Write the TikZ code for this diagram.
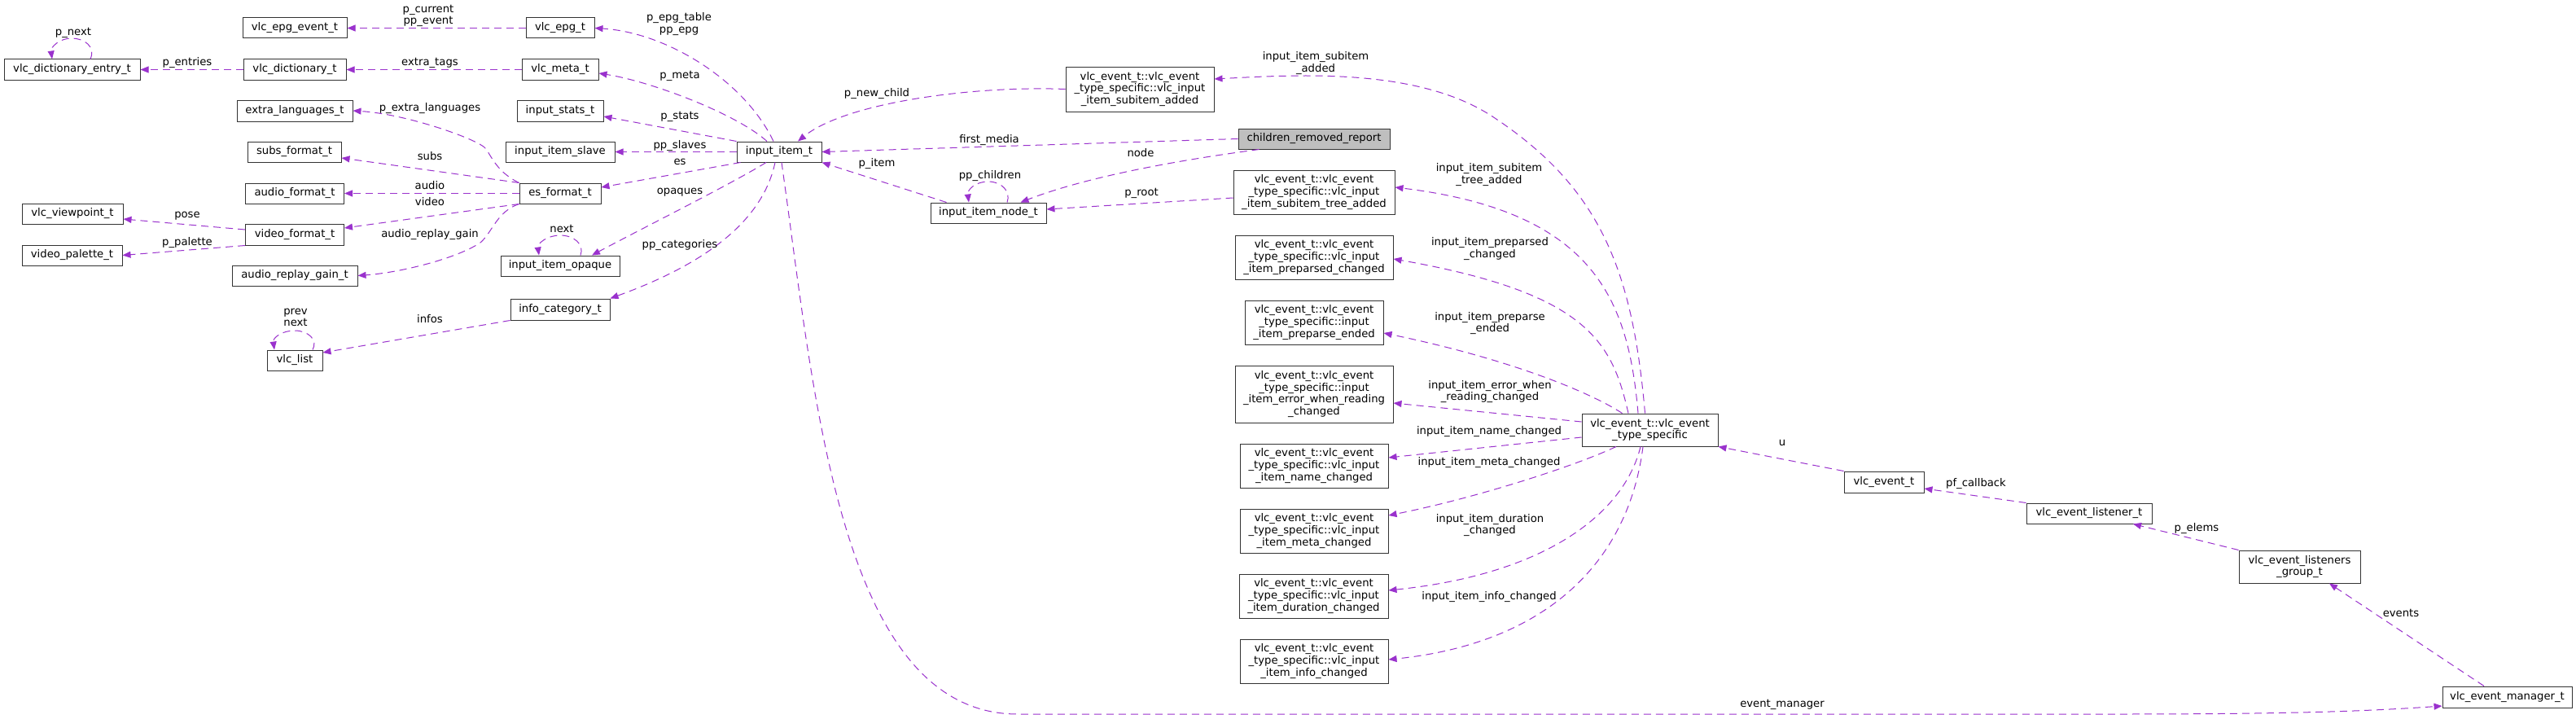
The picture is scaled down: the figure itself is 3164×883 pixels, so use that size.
\documentclass[tikz,border=0pt]{standalone}
\usepackage{fontspec}
\setmainfont{DejaVu Sans}
\usetikzlibrary{arrows.meta}
\definecolor{edgec}{HTML}{9A32CD}
\definecolor{grayfill}{HTML}{BFBFBF}
\newcommand\dgfont{\fontsize{13.2}{14.7}\selectfont}
\tikzset{
  box/.style={draw=black!80, line width=1pt, fill=white, inner sep=0pt, align=center, font=\dgfont},
  edge/.style={draw=edgec, line width=1pt, dash pattern=on 9pt off 6pt, -{Triangle[length=10pt,width=8pt]}, color=edgec},
  lbl/.style={inner sep=0pt, align=center, font=\dgfont, text=black},
}
\begin{document}
\begin{tikzpicture}[x=1pt,y=1pt]
\fill[white] (0,0) rectangle (3164,-883);
\useasboundingbox (0,0) rectangle (3164,-883);
% nodes
\node[box,minimum width=167pt,minimum height=25pt] (dictentry) at (88.5,-85.5) {vlc\_dictionary\_entry\_t};
\node[box,minimum width=124pt,minimum height=25pt] (viewpoint) at (89,-262.5) {vlc\_viewpoint\_t};
\node[box,minimum width=123pt,minimum height=25pt] (palette) at (88.5,-313.5) {video\_palette\_t};
\node[box,minimum width=128pt,minimum height=25pt] (epgevent) at (362,-34.5) {vlc\_epg\_event\_t};
\node[box,minimum width=126pt,minimum height=25pt] (dict) at (362,-85.5) {vlc\_dictionary\_t};
\node[box,minimum width=142pt,minimum height=26pt] (extralang) at (362,-136) {extra\_languages\_t};
\node[box,minimum width=115pt,minimum height=25pt] (subs) at (361.5,-186.5) {subs\_format\_t};
\node[box,minimum width=121pt,minimum height=25pt] (audiofmt) at (362,-237.5) {audio\_format\_t};
\node[box,minimum width=121pt,minimum height=26pt] (videofmt) at (362,-288) {video\_format\_t};
\node[box,minimum width=154pt,minimum height=25pt] (replaygain) at (362,-338.5) {audio\_replay\_gain\_t};
\node[box,minimum width=68pt,minimum height=25pt] (vlclist) at (362,-442.5) {vlc\_list};
\node[box,minimum width=84pt,minimum height=25pt] (epg) at (688,-34.5) {vlc\_epg\_t};
\node[box,minimum width=94pt,minimum height=25pt] (meta) at (688,-85.5) {vlc\_meta\_t};
\node[box,minimum width=106pt,minimum height=26pt] (stats) at (688,-136) {input\_stats\_t};
\node[box,minimum width=134pt,minimum height=25pt] (slave) at (688,-186.5) {input\_item\_slave};
\node[box,minimum width=100pt,minimum height=25pt] (esfmt) at (688,-237.5) {es\_format\_t};
\node[box,minimum width=146pt,minimum height=25pt] (opaque) at (688,-326.5) {input\_item\_opaque};
\node[box,minimum width=122pt,minimum height=26pt] (infocat) at (688,-380) {info\_category\_t};
\node[box,minimum width=104pt,minimum height=25pt] (item) at (957,-186.5) {input\_item\_t};
\node[box,minimum width=142pt,minimum height=25pt] (itemnode) at (1214,-261.5) {input\_item\_node\_t};
\node[box,minimum width=182pt,minimum height=55pt] (subadded) at (1400,-109.5) {vlc\_event\_t::vlc\_event\\\_type\_specific::vlc\_input\\\_item\_subitem\_added};
\node[box,fill=grayfill,minimum width=186pt,minimum height=25pt] (children) at (1614,-170.5) {children\_removed\_report};
\node[box,minimum width=198pt,minimum height=54pt] (treeadded) at (1614,-236) {vlc\_event\_t::vlc\_event\\\_type\_specific::vlc\_input\\\_item\_subitem\_tree\_added};
\node[box,minimum width=194pt,minimum height=54pt] (preparsed) at (1614,-316) {vlc\_event\_t::vlc\_event\\\_type\_specific::vlc\_input\\\_item\_preparsed\_changed};
\node[box,minimum width=170pt,minimum height=54pt] (preparseended) at (1614,-396) {vlc\_event\_t::vlc\_event\\\_type\_specific::input\\\_item\_preparse\_ended};
\node[box,minimum width=194pt,minimum height=70pt] (errread) at (1614,-484) {vlc\_event\_t::vlc\_event\\\_type\_specific::input\\\_item\_error\_when\_reading\\\_changed};
\node[box,minimum width=182pt,minimum height=54pt] (namech) at (1614,-572) {vlc\_event\_t::vlc\_event\\\_type\_specific::vlc\_input\\\_item\_name\_changed};
\node[box,minimum width=182pt,minimum height=54pt] (metach) at (1614,-652) {vlc\_event\_t::vlc\_event\\\_type\_specific::vlc\_input\\\_item\_meta\_changed};
\node[box,minimum width=183pt,minimum height=54pt] (durch) at (1613.5,-732) {vlc\_event\_t::vlc\_event\\\_type\_specific::vlc\_input\\\_item\_duration\_changed};
\node[box,minimum width=182pt,minimum height=54pt] (infoch) at (1614,-812) {vlc\_event\_t::vlc\_event\\\_type\_specific::vlc\_input\\\_item\_info\_changed};
\node[box,minimum width=167pt,minimum height=40pt] (typespec) at (2026.5,-528) {vlc\_event\_t::vlc\_event\\\_type\_specific};
\node[box,minimum width=98pt,minimum height=26pt] (event) at (2314,-592) {vlc\_event\_t};
\node[box,minimum width=154pt,minimum height=25pt] (listener) at (2566,-630.5) {vlc\_event\_listener\_t};
\node[box,minimum width=149pt,minimum height=40pt] (group) at (2824.5,-696) {vlc\_event\_listeners\\\_group\_t};
\node[box,minimum width=159pt,minimum height=26pt] (manager) at (3079.5,-856) {vlc\_event\_manager\_t};
% edges
\draw[edge] (epg.west) -- (epgevent.east);
\draw[edge] (dict.west) -- (dictentry.east);
\draw[edge] ([xshift=22.5pt]dictentry.north) .. controls (118,-57) and (103,-47) .. (88,-47) .. controls (73,-47) and (62,-58) .. ([xshift=-24.5pt]dictentry.north);
\draw[edge] (meta.west) -- (dict.east);
\draw[edge] ([xshift=-7pt]item.north) .. controls (915,-100) and (820,-40) .. (epg.east);
\draw[edge] ([xshift=-15pt]item.north) .. controls (905,-140) and (800,-100) .. ([yshift=-4.5pt]meta.east);
\draw[edge] (item.north west) -- ([yshift=-7pt]stats.east);
\draw[edge] (item.west) -- (slave.east);
\draw[edge] ([xshift=5pt]item.south west) -- ([yshift=7.5pt]esfmt.east);
\draw[edge] ([xshift=-16pt]item.south) .. controls (900,-225) and (780,-285) .. ([xshift=39pt]opaque.north);
\draw[edge] ([xshift=25pt]opaque.north) .. controls (718,-300) and (705,-289) .. (688,-289) .. controls (672,-289) and (660,-299) .. ([xshift=-26pt]opaque.north);
\draw[edge] ([xshift=-5pt]item.south) .. controls (935,-280) and (850,-330) .. (infocat.north east);
\draw[edge] (esfmt.north west) .. controls (612,-212) and (605,-195) .. (597,-183) .. controls (590,-172) and (500,-140) .. (extralang.east);
\draw[edge] (esfmt.north west) -- ([yshift=-7.5pt]subs.east);
\draw[edge] (esfmt.west) -- (audiofmt.east);
\draw[edge] (esfmt.south west) -- ([yshift=8pt]videofmt.east);
\draw[edge] (esfmt.south west) .. controls (610,-260) and (605,-285) .. (590,-298) .. controls (560,-318) and (490,-335) .. (replaygain.east);
\draw[edge] ([yshift=6pt]videofmt.west) -- ([yshift=-6.5pt]viewpoint.east);
\draw[edge] (videofmt.south west) -- (palette.east);
\draw[edge] (infocat.south west) -- ([yshift=9.5pt]vlclist.east);
\draw[edge] ([xshift=22pt]vlclist.north) .. controls (391,-417) and (378,-406) .. (362,-406) .. controls (346,-406) and (335,-415) .. ([xshift=-25pt]vlclist.north);
\draw[edge] ([xshift=20pt]itemnode.north west) -- (item.south east);
\draw[edge] (subadded.west) .. controls (1200,-105) and (1040,-125) .. ([xshift=23pt]item.north);
\draw[edge] (children.west) -- (item.east);
\draw[edge] ([xshift=26pt]children.south west) .. controls (1460,-195) and (1340,-215) .. ([xshift=-32pt]itemnode.north east);
\draw[edge] ([xshift=23pt]itemnode.north) .. controls (1242,-235) and (1230,-223) .. (1214,-223) .. controls (1198,-223) and (1188,-233) .. ([xshift=-24pt]itemnode.north);
\draw[edge] ([yshift=-7pt]treeadded.west) -- ([yshift=4.5pt]itemnode.east);
\draw[edge] ([xshift=-6pt]typespec.north) .. controls (2005,-330) and (1965,-230) .. (1833,-143) .. controls (1740,-82) and (1590,-92) .. ([yshift=12.5pt]subadded.east);
\draw[edge] ([xshift=-14.5pt]typespec.north) .. controls (2000,-370) and (1960,-260) .. ([yshift=6pt]treeadded.east);
\draw[edge] ([xshift=-26.5pt]typespec.north) .. controls (1980,-420) and (1950,-360) .. ([yshift=-2pt]preparsed.east);
\draw[edge] ([xshift=-34pt]typespec.north) .. controls (1950,-480) and (1850,-440) .. ([yshift=-13pt]preparseended.east);
\draw[edge] ([yshift=10pt]typespec.west) -- ([yshift=-11pt]errread.east);
\draw[edge] ([yshift=-9pt]typespec.west) -- ([yshift=10pt]namech.east);
\draw[edge] ([xshift=-41.5pt]typespec.south) .. controls (1940,-570) and (1820,-610) .. ([yshift=19pt]metach.east);
\draw[edge] ([xshift=-11.5pt]typespec.south) .. controls (1995,-630) and (1900,-705) .. ([yshift=7pt]durch.east);
\draw[edge] ([xshift=-8.5pt]typespec.south) .. controls (2000,-690) and (1900,-790) .. ([yshift=2pt]infoch.east);
\draw[edge] (event.north west) -- (typespec.south east);
\draw[edge] (listener.north west) -- ([yshift=-8pt]event.east);
\draw[edge] (group.north west) -- ([xshift=54pt]listener.south);
\draw[edge] ([xshift=-28.5pt]manager.north) -- ([xshift=36.5pt]group.south);
\draw[edge] ([xshift=3pt]item.south) .. controls (1000,-480) and (1030,-877) .. (1250,-877) -- (2600,-877) .. controls (2800,-877) and (2900,-874) .. ([yshift=-11pt]manager.west);
% labels
\node[lbl] (l1) at (526,-19.5) {p\_current\\pp\_event};
\node[lbl] (l2) at (90,-40) {p\_next};
\node[lbl] (l3) at (230,-77) {p\_entries};
\node[lbl] (l4) at (528,-77) {extra\_tags};
\node[lbl] (l5) at (528,-133) {p\_extra\_languages};
\node[lbl] (l6) at (528,-192) {subs};
\node[lbl] (l7) at (528,-228) {audio};
\node[lbl] (l8) at (528,-248) {video};
\node[lbl] (l9) at (528,-288) {audio\_replay\_gain};
\node[lbl] (l10) at (230,-265) {pose};
\node[lbl] (l11) at (230,-298) {p\_palette};
\node[lbl] (l12) at (363,-390) {prev\\next};
\node[lbl] (l13) at (528,-392) {infos};
\node[lbl] (l14) at (834,-29.5) {p\_epg\_table\\pp\_epg};
\node[lbl] (l15) at (835,-93) {p\_meta};
\node[lbl] (l16) at (835,-143) {p\_stats};
\node[lbl] (l17) at (835,-179) {pp\_slaves};
\node[lbl] (l18) at (835,-199) {es};
\node[lbl] (l19) at (835,-236) {opaques};
\node[lbl] (l20) at (690,-281) {next};
\node[lbl] (l21) at (835,-301) {pp\_categories};
\node[lbl] (l22) at (1077,-115) {p\_new\_child};
\node[lbl] (l23) at (1077,-201) {p\_item};
\node[lbl] (l24) at (1215,-172) {first\_media};
\node[lbl] (l25) at (1216,-216) {pp\_children};
\node[lbl] (l26) at (1401,-188) {node};
\node[lbl] (l27) at (1402,-237) {p\_root};
\node[lbl] (l28) at (1616,-77.5) {input\_item\_subitem\\\_added};
\node[lbl] (l29) at (1829,-214.5) {input\_item\_subitem\\\_tree\_added};
\node[lbl] (l30) at (1830,-305.5) {input\_item\_preparsed\\\_changed};
\node[lbl] (l31) at (1830,-397) {input\_item\_preparse\\\_ended};
\node[lbl] (l32) at (1830,-481) {input\_item\_error\_when\\\_reading\_changed};
\node[lbl] (l33) at (1829,-530) {input\_item\_name\_changed};
\node[lbl] (l34) at (1829,-568) {input\_item\_meta\_changed};
\node[lbl] (l35) at (1830,-645) {input\_item\_duration\\\_changed};
\node[lbl] (l36) at (1829,-733) {input\_item\_info\_changed};
\node[lbl] (l37) at (2189,-544) {u};
\node[lbl] (l38) at (2427,-594) {pf\_callback};
\node[lbl] (l39) at (2698,-649) {p\_elems};
\node[lbl] (l40) at (2949,-753) {events};
\node[lbl] (l41) at (2189,-865) {event\_manager};
\end{tikzpicture}
\end{document}
